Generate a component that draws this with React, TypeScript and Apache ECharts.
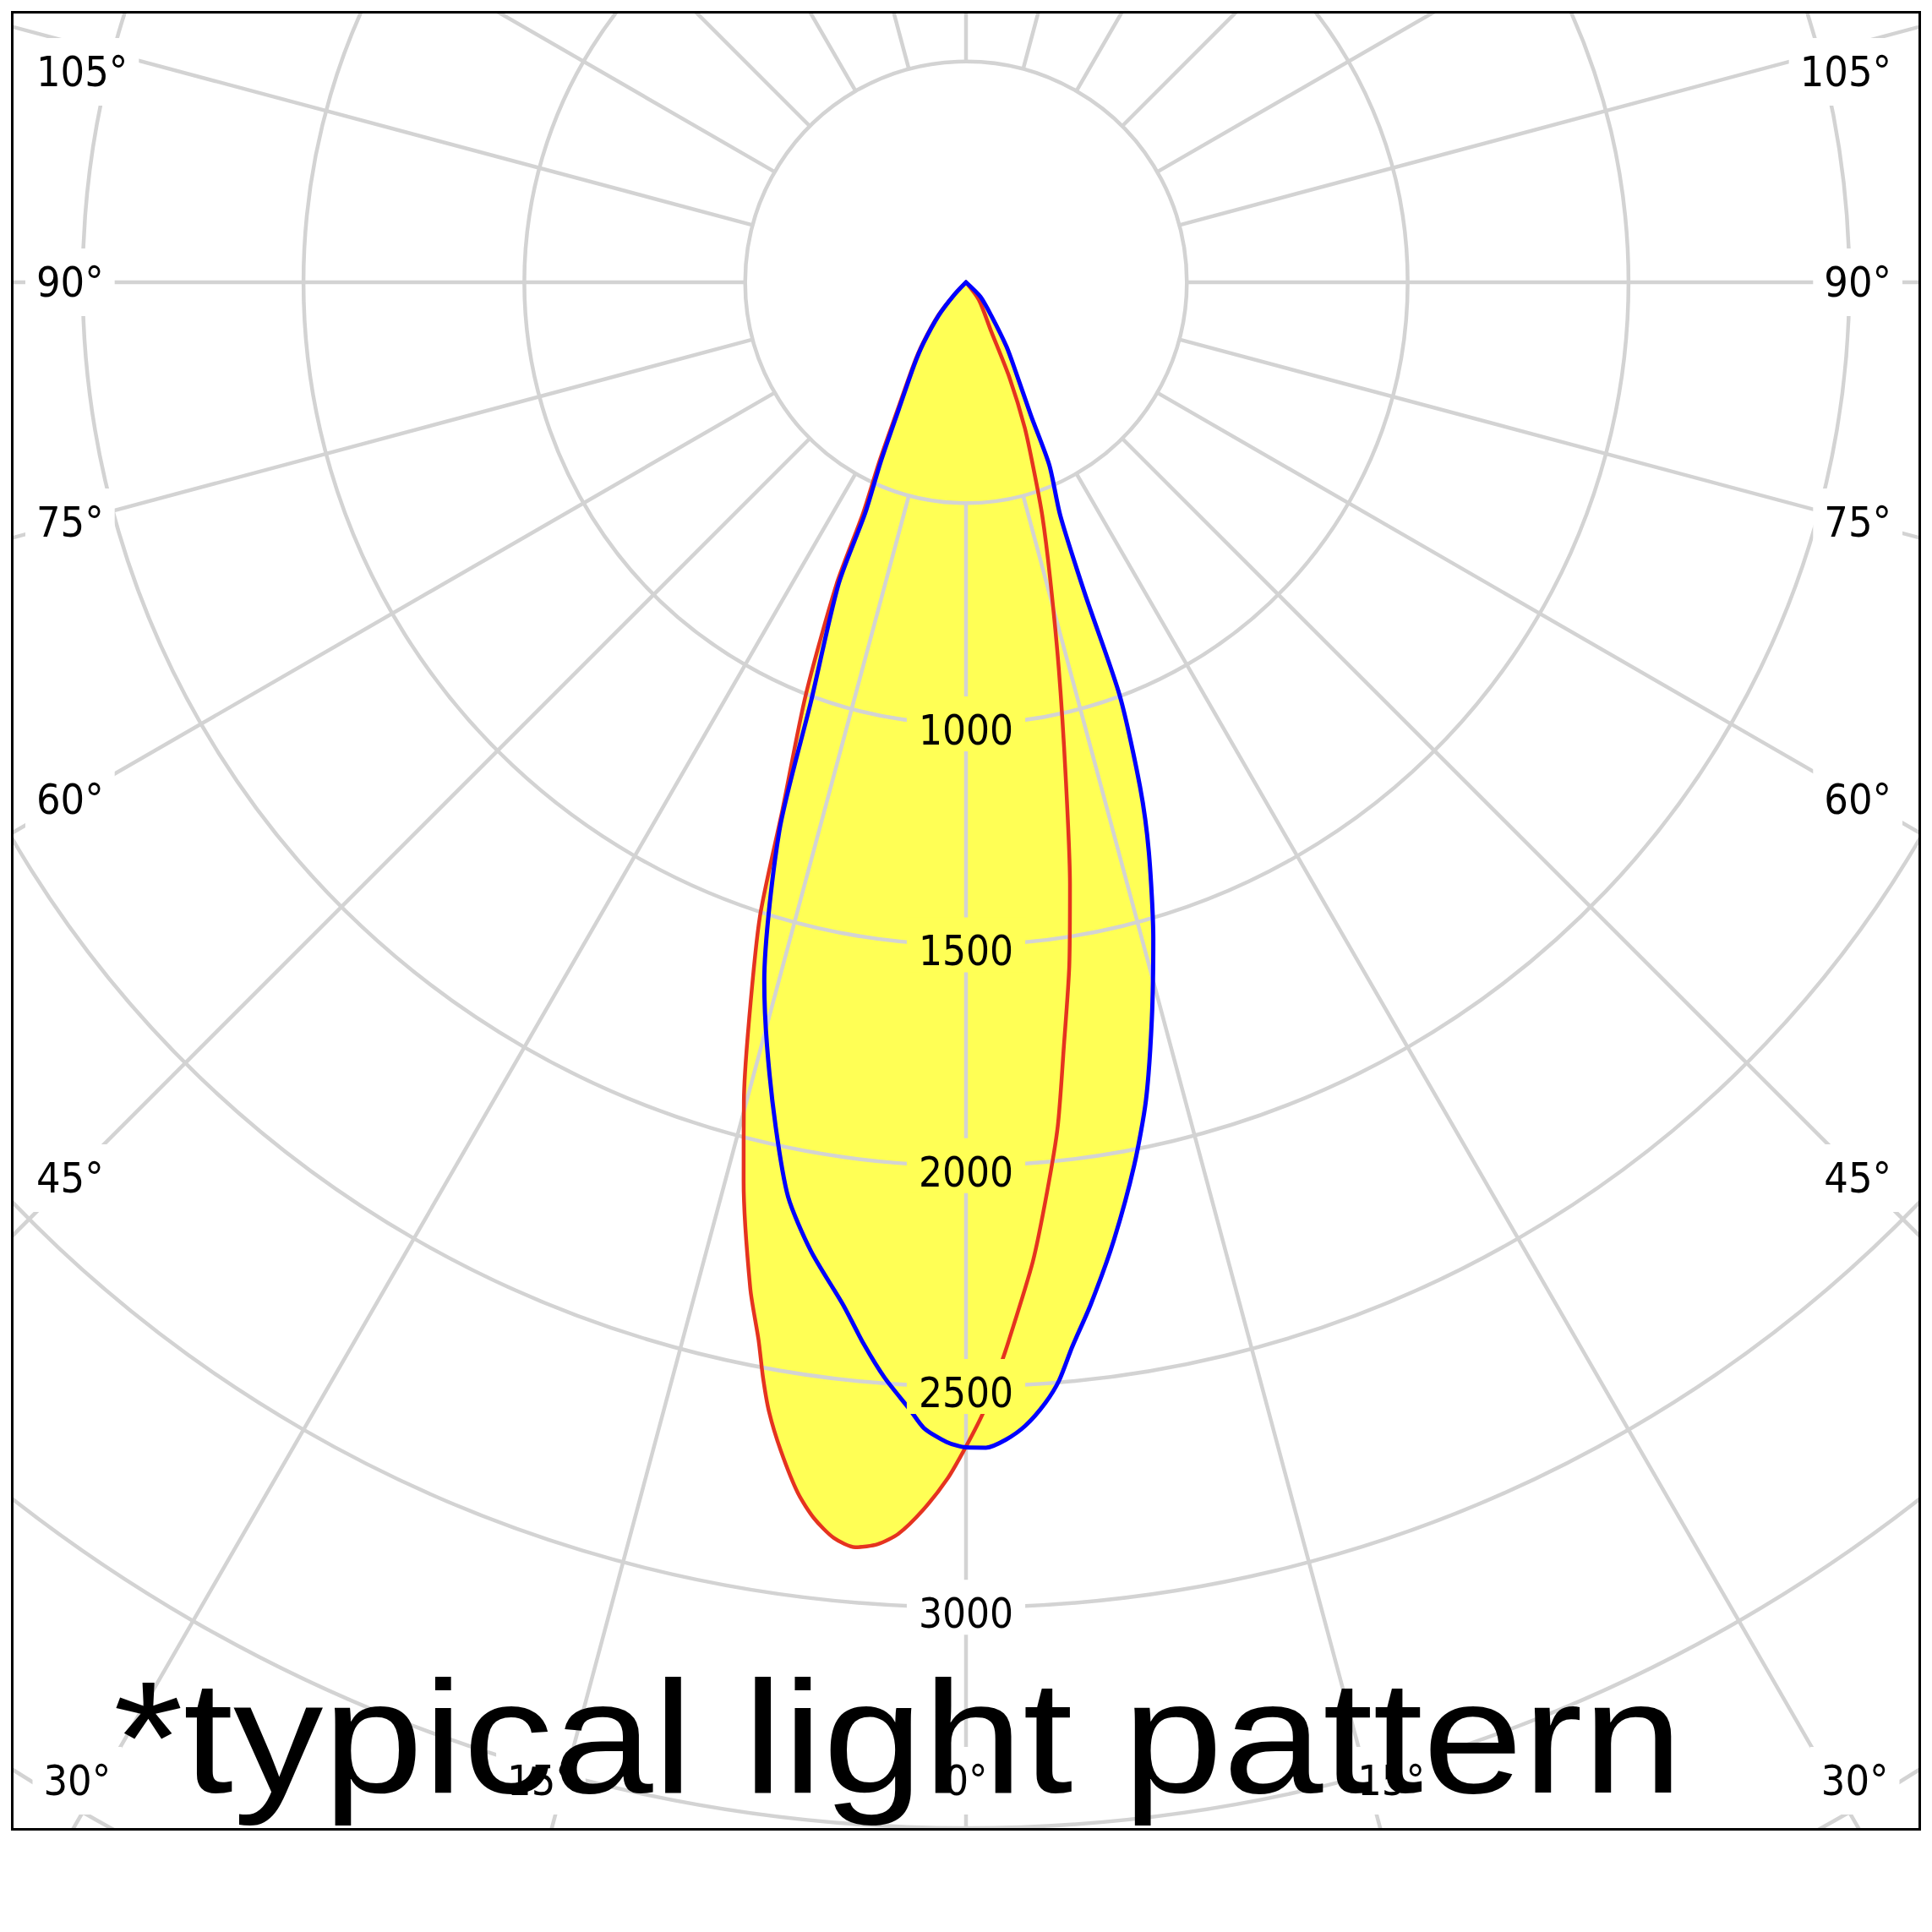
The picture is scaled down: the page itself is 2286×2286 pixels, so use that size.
import React, { useEffect, useRef } from "react";
import * as echarts from "echarts";

// ---- Data (angle in degrees from nadir, negative = left; intensity in cd) ----
const RED_ANGLES = [
  -44, -43.5, -40, -35.3, -32.4, -28.3, -25.8, -24.0, -23.2, -21.2, -19.2, -18.0, -16.4, -15.2,
  -13.9, -12.1, -11.1, -10.5, -9.9, -9.0, -7.9, -7.0, -6.0, -5.0, -4.0, -3.1, -2.0, -0.9, 0,
  0.9, 1.8, 2.3, 3.9, 5.1, 6.2, 7.3, 8.6, 9.8, 11.4, 13.5, 15.9, 18.1, 19.8, 22.0, 24.5, 27.2,
  36.4, 40,
];
const RED_VALUES = [
  0, 38, 97, 169, 222, 325, 451, 575, 745, 1005, 1262, 1510, 1739, 1918,
  2096, 2330, 2440, 2522, 2595, 2679, 2768, 2820, 2859, 2875, 2864, 2838, 2781, 2710, 2636,
  2557, 2456, 2400, 2223, 2067, 1923, 1744, 1564, 1383, 1142, 900, 694, 556, 455, 355, 238, 124,
  49, 0,
];
const BLUE_ANGLES = [
  -46, -43.2, -39.5, -34.9, -32.0, -27.9, -25.4, -23.6, -22.9, -20.3, -18.8, -16.1, -14.6,
  -12.7, -11.0, -9.1, -6.85, -5.5, -4.25, -2.84, -2.1, -0.96, 0, 0.98, 1.97, 2.98, 4.04, 4.85,
  5.7, 6.95, 8.78, 10.8, 12.41, 14.15, 15.93, 17.79, 19.02, 20.4, 20.9, 22.0, 24.5, 26.0, 29.1,
  32.2, 37.2, 45, 47,
];
const BLUE_VALUES = [
  0, 39, 97, 169, 222, 325, 451, 570, 742, 1011, 1311, 1647, 1787,
  1960, 2110, 2221, 2332, 2415, 2487, 2556, 2596, 2626, 2638, 2639, 2622, 2592, 2544, 2495,
  2422, 2332, 2194, 2034, 1896, 1721, 1545, 1355, 1210, 999, 754, 570, 455, 335, 231,
  172, 94, 46, 0,
];
const RADIAL_LABELS = [1000, 1500, 2000, 2500, 3000];
const SIDE_ANGLE_LABELS = [45, 60, 75, 90, 105];
const BOTTOM_ANGLE_LABELS = [0, 15, 30];
const CAPTION = "*typical light pattern";

// ---- Styling / layout ----
const PAGE = 2286;
const FRAME_LEFT = 13;
const FRAME_TOP = 13;
const FRAME_W = 2260;
const FRAME_H = 2153;
const BORDER = 3;
const CENTER_PAGE = [1143, 334];
const PX_PER_CD = 261.3 / 500;
const R_MIN_GRID = 500;
const R_MAX = 4500;
const GRID = "#d3d3d3";
const YELLOW = "#ffff55";
const RED = "#e5331f";
const BLUE = "#0000ff";
const LABEL_FONT = "'DejaVu Sans Condensed', 'Liberation Sans', sans-serif";
const SMOOTH = 0.25;

export default function App() {
  const ref = useRef<HTMLDivElement>(null);

  useEffect(() => {
    const el = ref.current;
    if (!el) return;
    const chart = echarts.init(el, null, { renderer: "svg" });

    const ox = FRAME_LEFT + BORDER;
    const oy = FRAME_TOP + BORDER;
    const cx = CENTER_PAGE[0] - ox;
    const cy = CENTER_PAGE[1] - oy;
    const rOuter = R_MAX * PX_PER_CD;
    const rInner = R_MIN_GRID * PX_PER_CD;
    const chartW = FRAME_W - 2 * BORDER;

    const toPolar = (angles: number[], values: number[]) =>
      angles.map((a, i) => [values[i], a < 0 ? a + 360 : a]);
    const redData = toPolar(RED_ANGLES, RED_VALUES);
    const blueData = toPolar(BLUE_ANGLES, BLUE_VALUES);

    const peakAtNadir = Math.max(
      RED_VALUES[RED_ANGLES.indexOf(0)],
      BLUE_VALUES[BLUE_ANGLES.indexOf(0)]
    );

    const labelStyleBase = {
      fontSize: 49,
      fontFamily: LABEL_FONT,
      color: "#000",
      lineHeight: 39,
      padding: [16, 14, 0, 14],
    };

    // angle labels
    const sideDx = 1060;
    const labelEls: any[] = [];
    SIDE_ANGLE_LABELS.forEach((a) => {
      const rad = (a * Math.PI) / 180;
      let y = cy + (sideDx * Math.cos(rad)) / Math.sin(rad);
      y = Math.max(y, 69);
      [-1, 1].forEach((side) => {
        labelEls.push({
          type: "text",
          x: side < 0 ? 14 : chartW - 19,
          y,
          z: 5,
          style: {
            text: `${a}°`,
            fontSize: 50,
            fontFamily: LABEL_FONT,
            fill: "#000",
            align: side < 0 ? "left" : "right",
            verticalAlign: "middle",
            backgroundColor: "#fff",
            padding: [15, 13],
          },
        });
      });
    });
    const bottomY = 2107 - oy;
    BOTTOM_ANGLE_LABELS.forEach((a) => {
      const rad = (a * Math.PI) / 180;
      const off = a === 0 ? 0 : (bottomY - cy) * Math.tan(rad) + 28;
      const sides = a === 0 ? [0] : [-1, 1];
      sides.forEach((side) => {
        labelEls.push({
          type: "text",
          x: cx + side * off,
          y: bottomY,
          z: 5,
          style: {
            text: `${a}°`,
            fontSize: 50,
            fontFamily: LABEL_FONT,
            fill: "#000",
            align: "center",
            verticalAlign: "middle",
            backgroundColor: "#fff",
            padding: [15, 13],
          },
        });
      });
    });

    const captionSize = 190;
    const captionBaseline = 2121 - oy;

    const option: any = {
      animation: false,
      backgroundColor: "#fff",
      polar: [
        { center: [cx, cy], radius: [rInner, rOuter] },
        { center: [cx, cy], radius: [0, rOuter] },
      ],
      angleAxis: [
        {
          polarIndex: 0,
          type: "value",
          min: 0,
          max: 360,
          interval: 15,
          startAngle: 270,
          clockwise: false,
          z: 2,
          axisLine: { show: false },
          axisTick: { show: false },
          axisLabel: { show: false },
          splitLine: { show: true, lineStyle: { color: GRID, width: 4.5 } },
        },
        {
          polarIndex: 1,
          type: "value",
          min: 0,
          max: 360,
          interval: 15,
          startAngle: 270,
          clockwise: false,
          show: false,
        },
      ],
      radiusAxis: [
        {
          polarIndex: 0,
          type: "value",
          min: R_MIN_GRID,
          max: R_MAX,
          interval: 500,
          z: 2,
          axisLine: { show: false },
          axisTick: { show: false },
          axisLabel: { show: false },
          splitLine: { show: true, lineStyle: { color: GRID, width: 4.5 } },
        },
        {
          polarIndex: 1,
          type: "value",
          min: 0,
          max: R_MAX,
          interval: 500,
          z: 4,
          axisLine: { show: false },
          axisTick: { show: false },
          splitLine: { show: false },
          axisLabel: {
            show: true,
            margin: 0,
            align: "center",
            verticalAlign: "middle",
            formatter: (v: number) => {
              if (RADIAL_LABELS.indexOf(v) < 0) return "";
              return v < peakAtNadir ? `{y|${v}}` : `{w|${v}}`;
            },
            rich: {
              y: { ...labelStyleBase, backgroundColor: YELLOW },
              w: { ...labelStyleBase, backgroundColor: "#fff" },
            },
          },
        },
      ],
      series: [
        {
          type: "line",
          coordinateSystem: "polar",
          polarIndex: 1,
          data: redData,
          z: 1,
          smooth: SMOOTH,
          symbol: "none",
          silent: true,
          lineStyle: { width: 0, opacity: 0 },
          areaStyle: { color: YELLOW, opacity: 1 },
        },
        {
          type: "line",
          coordinateSystem: "polar",
          polarIndex: 1,
          data: blueData,
          z: 1,
          smooth: SMOOTH,
          symbol: "none",
          silent: true,
          lineStyle: { width: 0, opacity: 0 },
          areaStyle: { color: YELLOW, opacity: 1 },
        },
        {
          type: "line",
          coordinateSystem: "polar",
          polarIndex: 1,
          data: redData,
          z: 3,
          smooth: SMOOTH,
          symbol: "none",
          lineStyle: { color: RED, width: 4.5, join: "round", cap: "round" },
        },
        {
          type: "line",
          coordinateSystem: "polar",
          polarIndex: 1,
          data: blueData,
          z: 3,
          smooth: SMOOTH,
          symbol: "none",
          lineStyle: { color: BLUE, width: 5, join: "round", cap: "round" },
        },
      ],
      graphic: {
        elements: [
          ...labelEls,
          {
            type: "text",
            x: 134 - ox,
            y: captionBaseline - 0.3465 * captionSize,
            z: 10,
            scaleX: 1.12,
            style: {
              text: CAPTION,
              fontSize: captionSize,
              fontFamily: "'Liberation Sans', Arial, sans-serif",
              fill: "#000",
              align: "left",
              verticalAlign: "middle",
            },
          },
        ],
      },
    };

    chart.setOption(option);
    return () => chart.dispose();
  }, []);

  return (
    <div
      style={{
        position: "absolute",
        left: 0,
        top: 0,
        width: PAGE,
        height: PAGE,
        background: "#fff",
      }}
    >
      <div
        style={{
          position: "absolute",
          left: FRAME_LEFT,
          top: FRAME_TOP,
          width: FRAME_W,
          height: FRAME_H,
          border: `${BORDER}px solid #000`,
          boxSizing: "border-box",
          overflow: "hidden",
        }}
      >
        <div ref={ref} style={{ width: FRAME_W - 2 * BORDER, height: FRAME_H - 2 * BORDER }} />
      </div>
    </div>
  );
}
